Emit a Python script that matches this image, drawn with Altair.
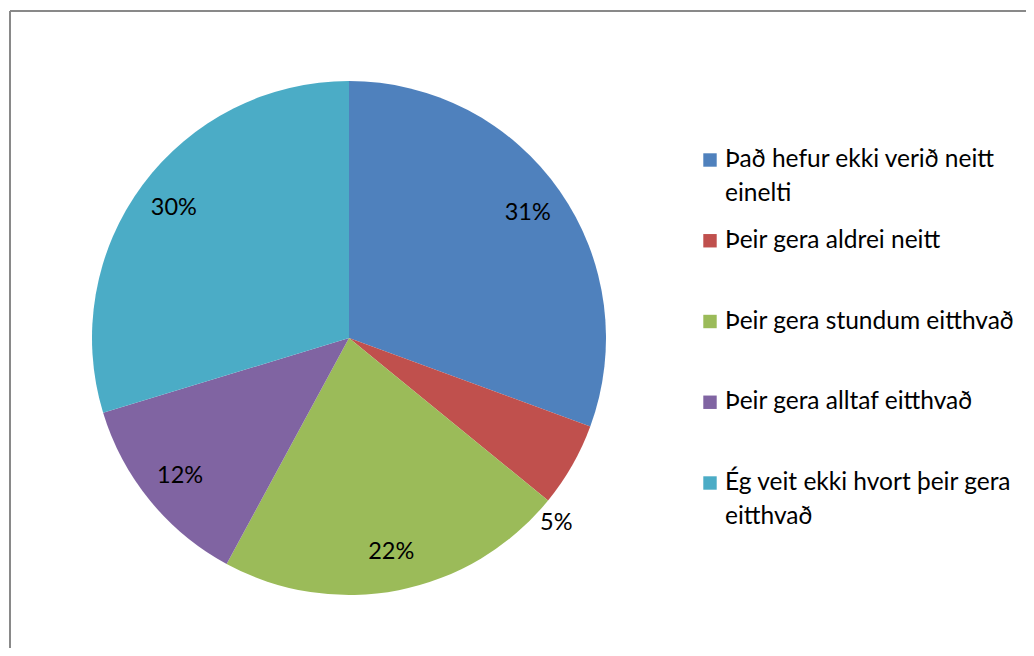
import altair as alt
import pandas as pd

categories = [
    "Það hefur ekki verið neitt einelti",
    "Þeir gera aldrei neitt",
    "Þeir gera stundum eitthvað",
    "Þeir gera alltaf eitthvað",
    "Ég veit ekki hvort þeir gera eitthvað",
]
legend_lines = [
    "Það hefur ekki verið neitt\neinelti",
    "Þeir gera aldrei neitt",
    "Þeir gera stundum eitthvað",
    "Þeir gera alltaf eitthvað",
    "Ég veit ekki hvort þeir gera\neitthvað",
]
values = [30.6, 5.3, 22.0, 12.4, 29.7]
colors = ["#4F81BD", "#C0504D", "#9BBB59", "#8064A2", "#4BACC6"]

labels = [f"{round(v)}%" for v in values]
df = pd.DataFrame({
    "cat": categories,
    "idx": list(range(len(categories))),
    "value": values,
    "legend": legend_lines,
    "inner": [l if v >= 8 else "" for l, v in zip(labels, values)],
    "outer": [l if v < 8 else "" for l, v in zip(labels, values)],
})

FONT = "Lato"
cx, cy = 341, 330
color = alt.Color("cat:N", scale=alt.Scale(domain=categories, range=colors), legend=None)

base = alt.Chart(df)

pie = base.mark_arc(radius=257, strokeWidth=0).encode(
    theta=alt.Theta("value:Q", stack=True),
    order=alt.Order("idx:Q"),
    color=color,
    x=alt.value(cx), y=alt.value(cy),
)

inner = base.mark_text(radius=218, font=FONT, fontSize=23.5, color="black").encode(
    theta=alt.Theta("value:Q", stack=True),
    order=alt.Order("idx:Q"),
    text="inner:N",
    x=alt.value(cx), y=alt.value(cy),
)

outer = base.mark_text(radius=272, dx=-29, dy=50, font=FONT, fontSize=23.5, color="black").encode(
    theta=alt.Theta("value:Q", stack=True),
    order=alt.Order("idx:Q"),
    text="outer:N",
    x=alt.value(cx), y=alt.value(cy),
)

leg_y = alt.Y("idx:Q", scale=alt.Scale(domain=[0, 4], range=[152, 475]), axis=None)

squares = base.mark_square(size=180, opacity=1).encode(
    x=alt.value(702),
    y=leg_y,
    color=color,
)

leg_text = base.mark_text(align="left", baseline="top", dy=-12, font=FONT, fontSize=24.5,
                          lineBreak="\n", lineHeight=34, color="black").encode(
    x=alt.value(717),
    y=leg_y,
    text="legend:N",
)

border_top = alt.Chart(pd.DataFrame({"a": [0]})).mark_rule(color="#898989", strokeWidth=2).encode(
    x=alt.value(2), x2=alt.value(1018), y=alt.value(3)
)
border_left = alt.Chart(pd.DataFrame({"a": [0]})).mark_rule(color="#898989", strokeWidth=2).encode(
    x=alt.value(2), y=alt.value(3), y2=alt.value(640)
)

chart = alt.layer(pie, inner, outer, squares, leg_text, border_top, border_left).properties(
    width=1018, height=640,
    autosize=alt.AutoSizeParams(type="fit", contains="padding"),
    padding=0,
).configure_view(stroke=None)

chart.save("out.html", embed_options={"renderer": "svg", "actions": False})
